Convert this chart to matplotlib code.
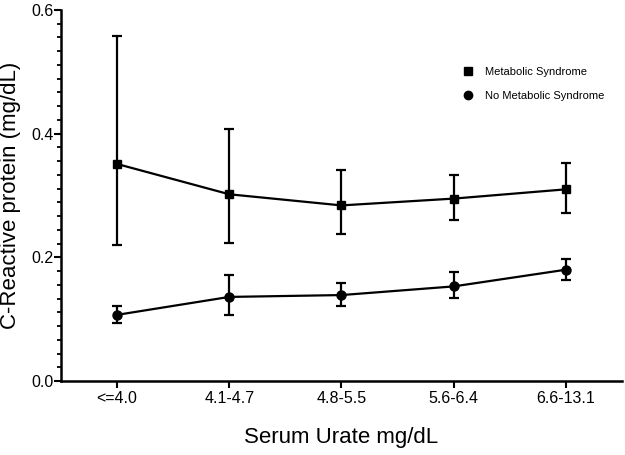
import numpy as np
import matplotlib
matplotlib.use('Agg')
import matplotlib.pyplot as plt
from matplotlib.ticker import FixedLocator
from matplotlib.lines import Line2D

plt.rcParams['font.family'] = ['Liberation Sans', 'DejaVu Sans']

categories = ['<=4.0', '4.1-4.7', '4.8-5.5', '5.6-6.4', '6.6-13.1']

# Metabolic Syndrome: mean, lower and upper error bar ends
ms_mean = [0.351, 0.302, 0.284, 0.295, 0.310]
ms_low = [0.220, 0.223, 0.238, 0.260, 0.272]
ms_high = [0.558, 0.408, 0.342, 0.333, 0.353]

# No Metabolic Syndrome
nms_mean = [0.107, 0.136, 0.139, 0.153, 0.180]
nms_low = [0.094, 0.107, 0.122, 0.134, 0.164]
nms_high = [0.121, 0.172, 0.159, 0.176, 0.198]

y_major = [0.0, 0.2, 0.4, 0.6]
y_labels = ['0.0', '0.2', '0.4', '0.6']

x = np.arange(len(categories))

fig = plt.figure(figsize=(6.25, 4.55), dpi=100)
ax = fig.add_axes([0.0976, 0.1626, 0.8974, 0.8154])

lw = 1.6
ms_err = [np.array(ms_mean) - np.array(ms_low), np.array(ms_high) - np.array(ms_mean)]
nms_err = [np.array(nms_mean) - np.array(nms_low), np.array(nms_high) - np.array(nms_mean)]

ax.errorbar(x, ms_mean, yerr=ms_err, fmt='-s', color='black', linewidth=lw, elinewidth=lw,
            capsize=3.6, capthick=lw, markersize=6, label='Metabolic Syndrome')
ax.errorbar(x, nms_mean, yerr=nms_err, fmt='-o', color='black', linewidth=lw, elinewidth=lw,
            capsize=3.6, capthick=lw, markersize=6.5, label='No Metabolic Syndrome')

ax.set_xlim(-0.5, 4.5)
ax.set_ylim(0, 0.6)
ax.set_xticks(x)
ax.set_xticklabels(categories, fontsize=11.5)
ax.set_yticks(y_major)
ax.set_yticklabels(y_labels, fontsize=11.5)
# 9 minor intervals between majors
minor = [a + 0.2 * k / 9 for a in y_major[:-1] for k in range(1, 9)]
ax.yaxis.set_minor_locator(FixedLocator(minor))
ax.tick_params(axis='x', which='major', direction='out', length=5, width=1.5, pad=2)
ax.tick_params(axis='y', which='major', direction='out', length=5, width=1.5, pad=0.5)
ax.tick_params(axis='y', which='minor', direction='out', length=3, width=1.3)

for side in ['top', 'right']:
    ax.spines[side].set_visible(False)
for side in ['left', 'bottom']:
    ax.spines[side].set_linewidth(1.8)

ax.set_ylabel('C-Reactive protein (mg/dL)', fontsize=16)
ax.yaxis.set_label_coords(-0.0713, 0.5)
ax.set_xlabel('Serum Urate mg/dL', fontsize=16)
ax.xaxis.set_label_coords(0.5, -0.124)

labels = ['Metabolic Syndrome', 'No Metabolic Syndrome']
h2 = [Line2D([], [], marker='s', color='black', linestyle='none', markersize=5.5),
      Line2D([], [], marker='o', color='black', linestyle='none', markersize=6)]
ax.legend(h2, labels, loc='upper left', bbox_to_anchor=(0.7157, 0.846), frameon=False,
          fontsize=8, handlelength=1.0, handletextpad=1.03, labelspacing=1.27,
          borderpad=0, borderaxespad=0)

fig.savefig('out.png', dpi=100)
